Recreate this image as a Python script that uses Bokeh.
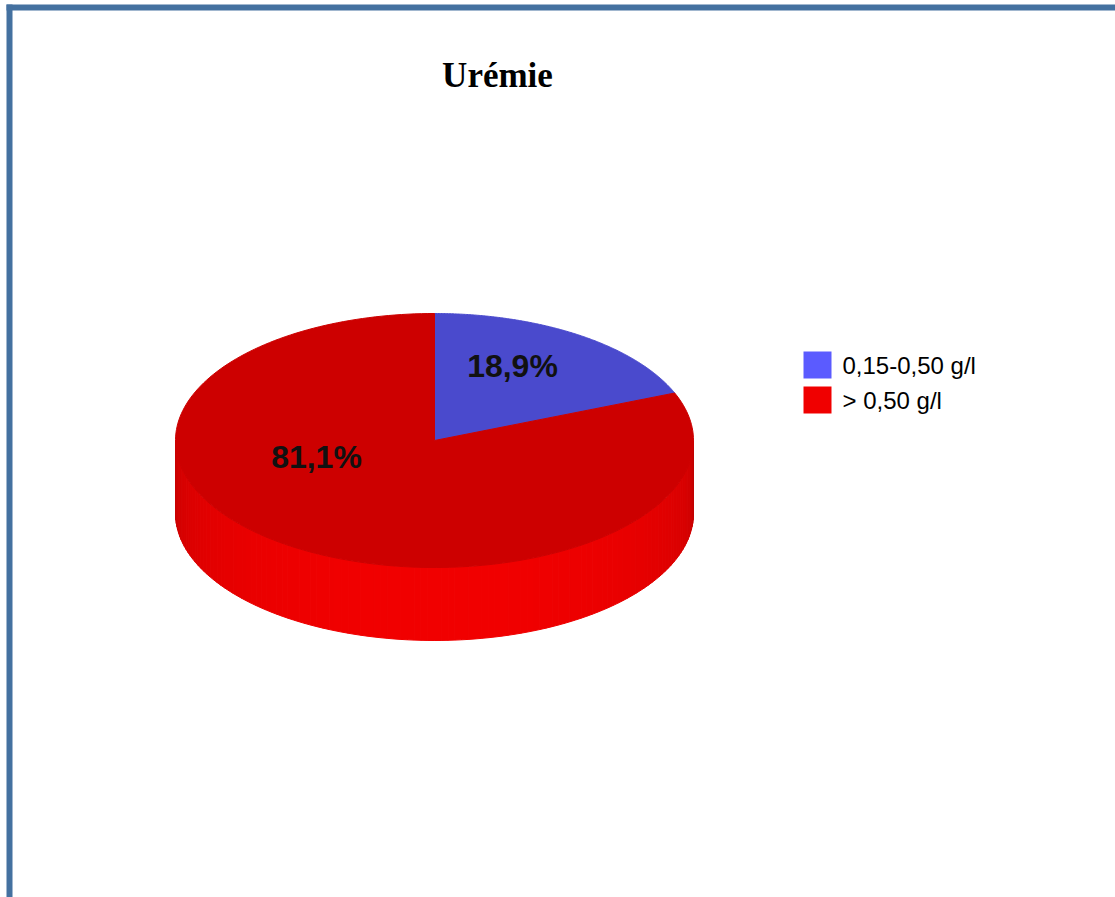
import numpy as np
from bokeh.plotting import figure
from bokeh.models import Range1d, ColumnDataSource
from bokeh.core.properties import value
from bokeh.embed import file_html
from bokeh.resources import INLINE

# ---- data ----
title = "Urémie"
categories = ["0,15-0,50 g/l", "> 0,50 g/l"]
values = [18.9, 81.1]
labels = ["18,9%", "81,1%"]

# ---- styles ----
top_colors = ["#4A4ACD", "#CD0000"]
legend_colors = ["#5B5BFF", "#F00000"]
label_offsets = [(78, -75), (-118, 16)]  # label placement relative to pie centre (px)

W, H = 1115, 897
p = figure(width=W, height=H, x_range=Range1d(0, W), y_range=Range1d(H, 0),
           output_backend="svg", toolbar_location=None, min_border=0)
p.axis.visible = False
p.grid.visible = False
p.outline_line_color = None
p.background_fill_color = "white"
p.border_fill_color = "white"

# frame
p.segment(x0=[6, 9], y0=[7, 4], x1=[W + 5, 9], y1=[7, H + 5],
          line_color="#4471A0", line_width=6)

# title
p.text(x=[497], y=[75], text=[title], text_align="center", text_baseline="middle",
       text_font=value("Liberation Serif"), text_font_style="bold",
       text_font_size="35px", text_color="#000000")

# pie geometry
cx, cy, rx, ry, depth = 434.0, 440.0, 259.0, 127.0, 73.0

vals = np.array(values, dtype=float)
fracs = vals / vals.sum()
starts = np.pi / 2 - 2 * np.pi * np.concatenate([[0], np.cumsum(fracs)[:-1]])
ends = starts - 2 * np.pi * fracs

def slice_index_at(t):
    for i in range(len(vals)):
        a0, a1 = starts[i], ends[i]
        tt = t
        while tt > a0:
            tt -= 2 * np.pi
        while tt <= a0 - 2 * np.pi:
            tt += 2 * np.pi
        if a1 <= tt <= a0:
            return i
    return len(vals) - 1

# side wall (front half), shaded strips
n = 120
ts = np.linspace(np.pi, 2 * np.pi, n + 1)
sx, sy, scol = [], [], []
for k in range(n):
    t0, t1 = ts[k], ts[k + 1]
    tm = 0.5 * (t0 + t1)
    idx = slice_index_at(tm)
    s = max(0.0, -np.sin(tm))
    if idx == 1:
        r = int(185 + 57 * s ** 0.45)
        c = "#%02X0000" % min(r, 255)
    else:
        b = int(150 + 60 * s ** 0.45)
        c = "#%02X%02X%02X" % (int(b * 0.36), int(b * 0.36), b)
    xa = [cx + rx * np.cos(t0), cx + rx * np.cos(t1), cx + rx * np.cos(t1), cx + rx * np.cos(t0)]
    ya = [cy - ry * np.sin(t0), cy - ry * np.sin(t1), cy - ry * np.sin(t1) + depth, cy - ry * np.sin(t0) + depth]
    sx.append(xa)
    sy.append(ya)
    scol.append(c)
p.patches(xs=sx, ys=sy, fill_color=scol, line_color=scol, line_width=1)

# top faces
txs, tys = [], []
for i in range(len(vals)):
    a = np.linspace(starts[i], ends[i], 200)
    txs.append([cx] + list(cx + rx * np.cos(a)))
    tys.append([cy] + list(cy - ry * np.sin(a)))
p.patches(xs=txs, ys=tys, fill_color=top_colors, line_color=top_colors, line_width=1)

# percent labels
lx = [cx + o[0] for o in label_offsets]
ly = [cy + o[1] for o in label_offsets]
p.text(x=lx, y=ly, text=labels, text_align="center", text_baseline="middle",
       text_font=value("Liberation Sans"), text_font_style="bold",
       text_font_size="32px", text_color="#111111")

# legend
leg_x, leg_y0, leg_dy, box = 817.0, 364.5, 35.0, 27.0
ly_rows = [leg_y0 + i * leg_dy for i in range(len(categories))]
leg = ColumnDataSource(dict(x=[leg_x] * len(categories), y=ly_rows,
                            color=legend_colors, text=categories,
                            tx=[leg_x + 25] * len(categories)))
p.rect(x="x", y="y", width=28, height=box, fill_color="color", line_color=None, source=leg)
p.text(x="tx", y="y", text="text", text_align="left", text_baseline="middle",
       text_font=value("Liberation Sans"), text_font_size="24px",
       text_color="#000000", source=leg)

open("out.html", "w").write(file_html(p, INLINE))
